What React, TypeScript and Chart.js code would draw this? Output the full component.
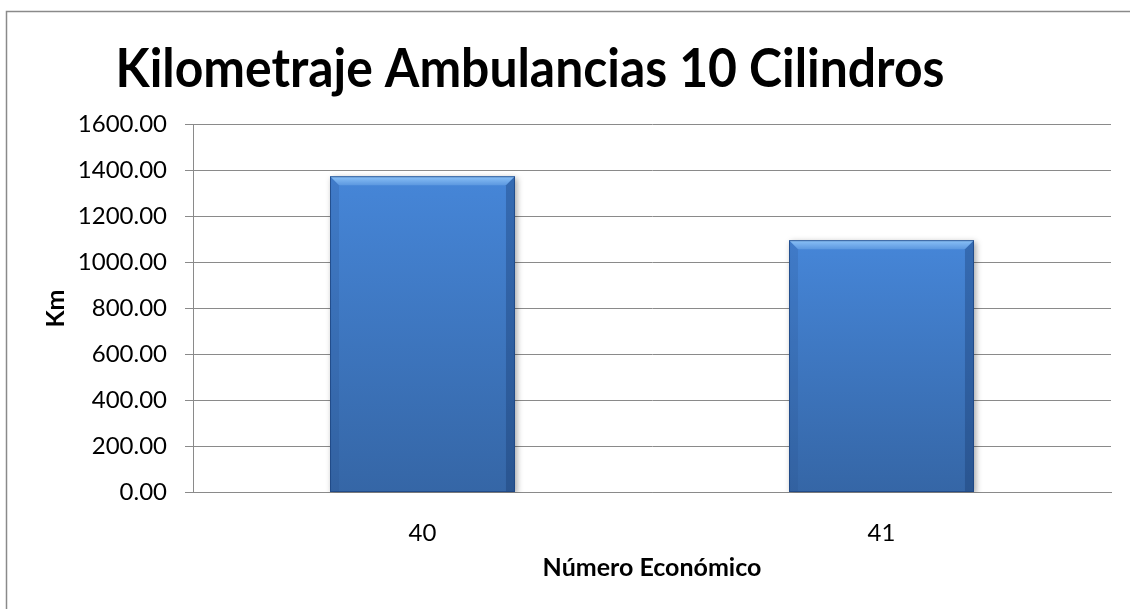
import React, { useEffect, useRef } from "react";
import { Chart, registerables } from "chart.js";

Chart.register(...registerables);

const categories: string[] = ["40", "41"];
const kmValues: number[] = [1375, 1097];
const yMin = 0;
const yMax = 1600;
const yStep = 200;
const chartTitle = "Kilometraje Ambulancias 10 Cilindros";
const xAxisTitle = "Número Económico";
const yAxisTitle = "Km";

const FONT = "Lato";
const GRID = "#8a8a8a";

const framePlugin = {
  id: "frame",
  beforeDraw(chart: any) {
    const c = chart.ctx;
    c.save();
    c.fillStyle = "#ffffff";
    c.fillRect(0, 0, chart.width, chart.height);
    c.strokeStyle = "#8a8a8a";
    c.lineWidth = 1.5;
    c.beginPath();
    c.moveTo(6.5, chart.height + 5);
    c.lineTo(6.5, 11.5);
    c.lineTo(chart.width + 5, 11.5);
    c.stroke();
    c.restore();
  },
};

const titlePlugin = {
  id: "mainTitle",
  afterDraw(chart: any) {
    const c = chart.ctx;
    c.save();
    c.fillStyle = "#000000";
    c.font = `bold 53px ${FONT}`;
    c.textAlign = "center";
    c.textBaseline = "alphabetic";
    c.translate(530, 87);
    c.scale(0.94, 1);
    c.fillText(chartTitle, 0, 0);
    c.restore();
  },
};

const barFxPlugin = {
  id: "barFx",
  beforeDatasetDraw(chart: any) {
    const c = chart.ctx;
    c.save();
    c.shadowColor = "rgba(0,0,0,0.35)";
    c.shadowBlur = 6;
    c.shadowOffsetX = 2;
    c.shadowOffsetY = 2;
  },
  afterDatasetDraw(chart: any, args: any) {
    const c = chart.ctx;
    c.restore();
    const meta = chart.getDatasetMeta(args.index);
    meta.data.forEach((el: any) => {
      const { x, y, base, width } = el.getProps(["x", "y", "base", "width"], true);
      if (![x, y, base, width].every((v) => Number.isFinite(v))) return;
      const l = x - width / 2;
      const r = x + width / 2;
      const t = y;
      const b = base;
      const bv = 9;
      c.save();
      const tg = c.createLinearGradient(0, t, 0, t + bv);
      tg.addColorStop(0, "#8cc2f7");
      tg.addColorStop(1, "#5c98e0");
      c.fillStyle = tg;
      c.beginPath();
      c.moveTo(l, t);
      c.lineTo(r, t);
      c.lineTo(r - bv, t + bv);
      c.lineTo(l + bv, t + bv);
      c.closePath();
      c.fill();
      c.fillStyle = "rgba(40,80,140,0.2)";
      c.beginPath();
      c.moveTo(l, t);
      c.lineTo(l + bv, t + bv);
      c.lineTo(l + bv, b);
      c.lineTo(l, b);
      c.closePath();
      c.fill();
      c.fillStyle = "rgba(20,50,100,0.32)";
      c.beginPath();
      c.moveTo(r, t);
      c.lineTo(r - bv, t + bv);
      c.lineTo(r - bv, b);
      c.lineTo(r, b);
      c.closePath();
      c.fill();
      c.strokeStyle = "rgba(30,70,130,0.8)";
      c.lineWidth = 1;
      c.strokeRect(l + 0.5, t + 0.5, width - 1, b - t - 1);
      c.restore();
    });
  },
};

export default function App() {
  const canvasRef = useRef<HTMLCanvasElement | null>(null);

  useEffect(() => {
    let chart: Chart | null = null;
    let cancelled = false;
    const build = () => {
      if (cancelled || !canvasRef.current) return;
      chart = new Chart(canvasRef.current, {
        type: "bar",
        data: {
          labels: categories,
          datasets: [
            {
              label: yAxisTitle,
              data: kmValues,
              categoryPercentage: 1,
              barPercentage: 0.403,
              borderWidth: 0,
              backgroundColor: (ctx: any) => {
                const ch = ctx.chart;
                const ys = ch.scales?.y;
                if (!ys || ctx.raw == null) return "#4482d2";
                const top = ys.getPixelForValue(ctx.raw);
                const bottom = ys.getPixelForValue(0);
                if (!Number.isFinite(top) || !Number.isFinite(bottom) || top === bottom) return "#4482d2";
                const g = ch.ctx.createLinearGradient(0, top, 0, bottom);
                g.addColorStop(0, "#4686d8");
                g.addColorStop(1, "#3566a6");
                return g;
              },
            },
          ],
        },
        options: {
          responsive: false,
          animation: false,
          events: [],
          layout: { padding: { top: 124.5, left: 0, right: 19, bottom: 0 } },
          plugins: {
            legend: { display: false },
            tooltip: { enabled: false },
            title: { display: false },
          },
          scales: {
            x: {
              grid: { display: false, drawTicks: false },
              border: { display: true, color: GRID, width: 1 },
              ticks: {
                color: "#000000",
                font: { family: FONT, size: 24 },
                padding: 26.5,
              },
              title: {
                display: true,
                text: xAxisTitle,
                color: "#000000",
                font: { family: FONT, size: 25, weight: "bold" },
                padding: { top: 0, bottom: 26 },
              },
              afterFit: (s: any) => {
                s.height = 116.5;
              },
            },
            y: {
              min: yMin,
              max: yMax,
              grid: { color: GRID, lineWidth: 1, drawTicks: true, tickLength: 8, tickColor: GRID },
              border: { display: true, color: GRID, width: 1 },
              ticks: {
                stepSize: yStep,
                color: "#000000",
                font: { family: FONT, size: 24 },
                padding: 18,
                callback: (v: any) => Number(v).toFixed(2),
              },
              title: {
                display: true,
                text: yAxisTitle,
                color: "#000000",
                font: { family: FONT, size: 25, weight: "bold" },
                padding: { top: 41, bottom: 0 },
              },
              afterFit: (s: any) => {
                s.width = 193;
              },
            },
          },
        },
        plugins: [framePlugin, barFxPlugin, titlePlugin],
      });
    };
    const fontsReady = (document as any).fonts
      ? Promise.all([
          (document as any).fonts.load(`bold 53px ${FONT}`),
          (document as any).fonts.load(`24px ${FONT}`),
        ]).catch(() => null)
      : Promise.resolve(null);
    fontsReady.then(build);
    return () => {
      cancelled = true;
      if (chart) chart.destroy();
    };
  }, []);

  return (
    <div style={{ position: "absolute", left: 0, top: 0, width: 1130, height: 609, background: "#fff" }}>
      <canvas ref={canvasRef} width={1130} height={609} style={{ display: "block" }} />
    </div>
  );
}
